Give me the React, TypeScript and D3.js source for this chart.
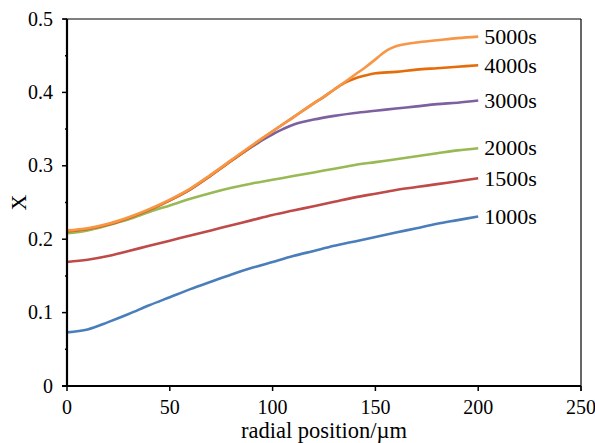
import * as d3 from "d3";
import React from "react";

// radial positions (µm) shared by the smooth early curves
const gridPos = [0, 10, 20, 30, 40, 50, 60, 70, 80, 90, 100, 110, 120, 130, 140, 150, 160, 170, 180, 190, 200];

const x1000 = [0.073, 0.077, 0.087, 0.098, 0.11, 0.121, 0.132, 0.142, 0.152, 0.161, 0.169, 0.177, 0.184, 0.191, 0.197, 0.203, 0.209, 0.215, 0.221, 0.226, 0.231];
const x1500 = [0.169, 0.172, 0.177, 0.184, 0.191, 0.198, 0.205, 0.212, 0.219, 0.226, 0.233, 0.239, 0.245, 0.251, 0.257, 0.262, 0.267, 0.271, 0.275, 0.279, 0.283];
const x2000 = [0.208, 0.212, 0.219, 0.227, 0.237, 0.246, 0.255, 0.263, 0.27, 0.276, 0.281, 0.286, 0.291, 0.296, 0.301, 0.305, 0.309, 0.313, 0.317, 0.321, 0.324];

const pos3000 = [0, 10, 20, 30, 40, 50, 60, 70, 80, 90, 95, 100, 105, 110, 120, 130, 140, 150, 160, 170, 180, 190, 200];
const x3000 = [0.211, 0.214, 0.22, 0.229, 0.24, 0.253, 0.268, 0.287, 0.307, 0.326, 0.335, 0.343, 0.35, 0.356, 0.363, 0.368, 0.372, 0.375, 0.378, 0.381, 0.384, 0.386, 0.389];

const pos4000 = [0, 10, 20, 30, 40, 50, 60, 70, 80, 90, 100, 110, 120, 125, 130, 135, 140, 145, 150, 160, 170, 180, 190, 200];
const x4000 = [0.211, 0.214, 0.22, 0.229, 0.24, 0.253, 0.268, 0.287, 0.307, 0.327, 0.347, 0.366, 0.385, 0.394, 0.404, 0.413, 0.419, 0.423, 0.426, 0.428, 0.431, 0.433, 0.435, 0.437];

const pos5000 = [0, 10, 20, 30, 40, 50, 60, 70, 80, 90, 100, 110, 120, 130, 140, 145, 150, 153, 156, 160, 165, 170, 180, 190, 200];
const x5000 = [0.212, 0.215, 0.221, 0.23, 0.241, 0.254, 0.269, 0.288, 0.308, 0.328, 0.347, 0.366, 0.385, 0.404, 0.424, 0.434, 0.445, 0.452, 0.458, 0.463, 0.466, 0.468, 0.471, 0.474, 0.476];

const seriesNames = ["1000s", "1500s", "2000s", "3000s", "4000s", "5000s"];
const seriesColors = ["#4a7ebb", "#be4b48", "#98b954", "#7d60a0", "#e46c0a", "#f79646"];

const xTicks = [0, 50, 100, 150, 200, 250];
const yTicks = [0, 0.1, 0.2, 0.3, 0.4, 0.5];
const yMinorTicks = [0.05, 0.15, 0.25, 0.35, 0.45];

const W = 595;
const H = 443;
const left = 67;
const right = 581;
const top = 19;
const bottom = 386;
const textStyle = { fontFamily: '"Liberation Serif"' };

export default function App() {
  const x = d3.scaleLinear().domain([0, 250]).range([left, right]);
  const y = d3.scaleLinear().domain([0, 0.5]).range([bottom, top]);

  const series = [
    { pos: gridPos, val: x1000 },
    { pos: gridPos, val: x1500 },
    { pos: gridPos, val: x2000 },
    { pos: pos3000, val: x3000 },
    { pos: pos4000, val: x4000 },
    { pos: pos5000, val: x5000 },
  ];

  const line = d3
    .line<[number, number]>()
    .x((d) => x(d[0]))
    .y((d) => y(d[1]))
    .curve(d3.curveCatmullRom.alpha(0.5));

  return (
    <svg width={W} height={H} style={{ position: "absolute", left: 0, top: 0, background: "#fff" }}>
      {/* frame */}
      <line x1={left - 4} x2={right} y1={top} y2={top} stroke="#000" strokeWidth={1.2} />
      <line x1={right} x2={right} y1={top} y2={bottom + 5} stroke="#000" strokeWidth={1.2} />

      {series.map((s, i) => (
        <path
          key={seriesNames[i]}
          d={line(s.pos.map((p, j) => [p, s.val[j]] as [number, number])) || ""}
          fill="none"
          stroke={seriesColors[i]}
          strokeWidth={2.6}
          strokeLinejoin="round"
        />
      ))}

      {series.map((s, i) => (
        <text
          key={"lab" + i}
          x={x(s.pos[s.pos.length - 1]) + 6}
          y={y(s.val[s.val.length - 1])}
          dy="0.33em"
          style={textStyle}
          fontSize={22}
          fill="#000"
        >
          {seriesNames[i]}
        </text>
      ))}

      {/* y axis */}
      <line x1={left} x2={left} y1={top} y2={bottom + 1} stroke="#000" strokeWidth={2.2} />
      {yTicks.map((t) => (
        <g key={"yt" + t}>
          <line x1={left - 5} x2={left} y1={y(t)} y2={y(t)} stroke="#000" strokeWidth={1.5} />
          <text x={53} y={y(t)} dy="0.33em" textAnchor="end" style={textStyle} fontSize={20}>
            {d3.format("")(t)}
          </text>
        </g>
      ))}
      {yMinorTicks.map((t) => (
        <line key={"ym" + t} x1={left - 2} x2={left} y1={y(t)} y2={y(t)} stroke="#000" strokeWidth={1.5} />
      ))}

      {/* x axis */}
      <line x1={left - 5} x2={right} y1={bottom} y2={bottom} stroke="#000" strokeWidth={2.2} />
      {xTicks.map((t) => (
        <g key={"xt" + t}>
          <line x1={x(t)} x2={x(t)} y1={bottom} y2={bottom + 5} stroke="#000" strokeWidth={1.5} />
          <text x={x(t)} y={414} textAnchor="middle" style={textStyle} fontSize={20}>
            {t}
          </text>
        </g>
      ))}

      <text x={(left + right) / 2} y={438} textAnchor="middle" style={textStyle} fontSize={22.5}>
        radial position/µm
      </text>
      <text
        transform={`translate(26, ${(top + bottom) / 2}) rotate(-90)`}
        textAnchor="middle"
        style={textStyle}
        fontSize={22}
      >
        X
      </text>
    </svg>
  );
}
